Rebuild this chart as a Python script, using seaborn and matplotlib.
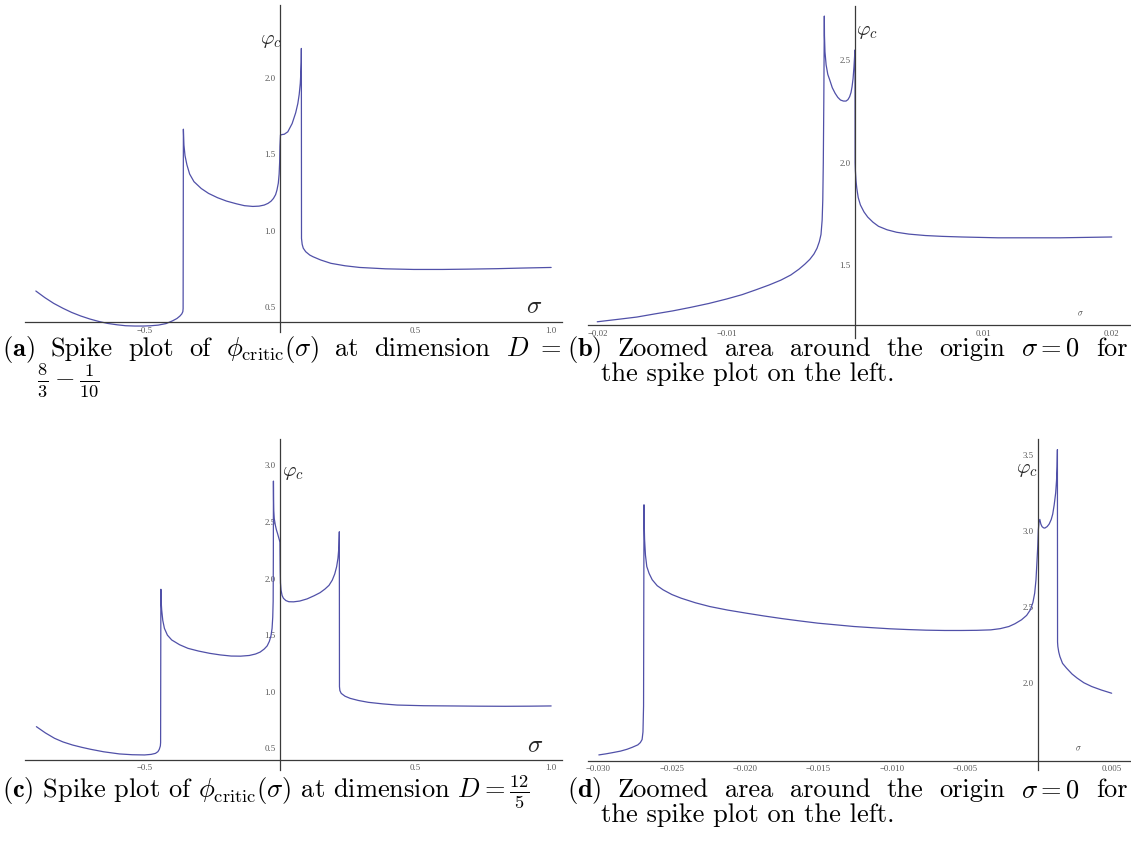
import matplotlib
matplotlib.use("Agg")
import matplotlib.pyplot as plt
import seaborn as sns
from matplotlib.ticker import MultipleLocator

sns.set_theme(style="white")
plt.rcParams["mathtext.fontset"] = "cm"
plt.rcParams["font.family"] = ["DejaVu Sans"]

W, H = 1131, 846

# ---- (a) spike plot, D = 8/3 - 1/10 ----
sigma_a = [-0.900, -0.867, -0.834, -0.800, -0.768, -0.735, -0.701, -0.668, -0.635,
           -0.600, -0.569, -0.535, -0.502, -0.475, -0.449, -0.420, -0.396, -0.380,
           -0.369, -0.362, -0.358, -0.357, -0.356, -0.354, -0.350, -0.343, -0.333,
           -0.317, -0.290, -0.263, -0.230, -0.197, -0.160, -0.131, -0.100, -0.077,
           -0.058, -0.044, -0.033, -0.024, -0.016, -0.011, -0.006, -0.003, -0.001,
           0.000, 0.002, 0.008, 0.016, 0.029, 0.045, 0.058, 0.066, 0.071, 0.075,
           0.077, 0.0785, 0.079, 0.0795, 0.082, 0.086, 0.095, 0.110, 0.122, 0.150,
           0.188, 0.240, 0.294, 0.390, 0.493, 0.600, 0.692, 0.800, 0.891, 1.000]
phi_a = [0.605, 0.562, 0.524, 0.492, 0.465, 0.442, 0.422, 0.406, 0.393,
         0.384, 0.378, 0.376, 0.376, 0.378, 0.382, 0.392, 0.410, 0.425,
         0.441, 0.455, 0.470, 0.490, 1.663, 1.560, 1.490, 1.430, 1.370,
         1.320, 1.275, 1.243, 1.215, 1.193, 1.175, 1.163, 1.158, 1.160,
         1.167, 1.178, 1.192, 1.210, 1.235, 1.265, 1.310, 1.370, 1.450,
         1.550, 1.625, 1.628, 1.630, 1.646, 1.700, 1.770, 1.831, 1.890, 1.962,
         2.030, 2.100, 2.191, 0.949, 0.910, 0.885, 0.862, 0.840, 0.829, 0.808,
         0.786, 0.770, 0.759, 0.750, 0.746, 0.746, 0.748, 0.751, 0.755, 0.759]

# ---- (b) zoom of (a) around the origin ----
sigma_b = [-0.02008, -0.01900, -0.01845, -0.01700, -0.01563, -0.01420, -0.01282,
           -0.01140, -0.01000, -0.00880, -0.00775, -0.00670, -0.00577, -0.00500,
           -0.00437, -0.00390, -0.00352, -0.00320, -0.00296, -0.00278, -0.00265,
           -0.00256, -0.00251, -0.00247, -0.00243, -0.00239, -0.00238, -0.00234,
           -0.00225, -0.00212, -0.00197, -0.00177, -0.00155, -0.00134, -0.00113,
           -0.00090, -0.00070, -0.00055, -0.00042, -0.00031, -0.00023, -0.00015,
           -0.00008, -0.00003, 0.00000, 0.00001, 0.00003, 0.00008, 0.00014,
           0.00025, 0.00042, 0.00070, 0.00099, 0.00140, 0.00183, 0.00250, 0.00324,
           0.00420, 0.00549, 0.00680, 0.00831, 0.00970, 0.01113, 0.01350, 0.01600,
           0.01800, 0.02000]
phi_b = [1.225, 1.233, 1.237, 1.248, 1.263, 1.278, 1.295,
         1.314, 1.336, 1.357, 1.380, 1.404, 1.428, 1.453,
         1.481, 1.506, 1.529, 1.555, 1.583, 1.615, 1.650,
         1.720, 1.818, 2.000, 2.300, 2.714, 2.620, 2.540,
         2.476, 2.430, 2.403, 2.365, 2.338, 2.318, 2.305,
         2.300, 2.300, 2.307, 2.321, 2.342, 2.370, 2.410,
         2.467, 2.520, 2.549, 2.000, 1.960, 1.910, 1.875,
         1.830, 1.794, 1.760, 1.735, 1.710, 1.690, 1.673, 1.661,
         1.652, 1.645, 1.641, 1.638, 1.636, 1.634, 1.634, 1.634,
         1.636, 1.638]

# ---- (c) spike plot, D = 12/5 ----
sigma_c = [-0.898, -0.865, -0.831, -0.800, -0.765, -0.730, -0.698, -0.650, -0.592,
           -0.545, -0.499, -0.475, -0.459, -0.450, -0.445, -0.441, -0.440, -0.439,
           -0.4375, -0.436, -0.432, -0.426, -0.415, -0.399, -0.370, -0.339, -0.300,
           -0.259, -0.220, -0.180, -0.145, -0.113, -0.090, -0.073, -0.058, -0.047,
           -0.039, -0.033, -0.029, -0.0265, -0.025, -0.0243, -0.024, -0.0235,
           -0.0228, -0.021, -0.017, -0.013, -0.009, -0.005, -0.002, 0.000, 0.001,
           0.002, 0.004, 0.008, 0.013, 0.022, 0.033, 0.050, 0.073, 0.100, 0.126,
           0.148, 0.166, 0.181, 0.193, 0.202, 0.209, 0.214, 0.2175, 0.219, 0.2195,
           0.221, 0.226, 0.240, 0.259, 0.290, 0.326, 0.380, 0.432, 0.530, 0.632,
           0.730, 0.831, 0.920, 1.000]
phi_c = [0.691, 0.636, 0.588, 0.556, 0.529, 0.508, 0.491, 0.469, 0.450,
         0.443, 0.441, 0.446, 0.455, 0.470, 0.490, 0.520, 0.550, 1.905,
         1.780, 1.722, 1.630, 1.560, 1.500, 1.457, 1.415, 1.383, 1.359,
         1.339, 1.325, 1.315, 1.314, 1.320, 1.333, 1.350, 1.377, 1.405,
         1.445, 1.495, 1.560, 1.660, 1.800, 2.200, 2.861, 2.700,
         2.600, 2.530, 2.472, 2.430, 2.399, 2.365, 2.340, 2.320, 2.080,
         1.960, 1.898, 1.850, 1.825, 1.805, 1.795, 1.794, 1.801, 1.820, 1.848,
         1.875, 1.907, 1.940, 1.986, 2.040, 2.104, 2.180, 2.280, 2.413, 1.044,
         1.010, 0.985, 0.960, 0.941, 0.922, 0.906, 0.892, 0.882, 0.876, 0.874,
         0.872, 0.871, 0.872, 0.874]

# ---- (d) zoom of (c) around the origin ----
sigma_d = [-0.02998, -0.02950, -0.02904, -0.02850, -0.02806, -0.02770, -0.02732,
           -0.02715, -0.02703, -0.02697, -0.02693, -0.02690, -0.02688, -0.02686,
           -0.02680, -0.02671, -0.02655, -0.02634, -0.02600, -0.02560, -0.02500,
           -0.02437, -0.02340, -0.02241, -0.02120, -0.01995, -0.01870, -0.01749,
           -0.01630, -0.01504, -0.01380, -0.01258, -0.01130, -0.01012, -0.00890,
           -0.00767, -0.00640, -0.00521, -0.00420, -0.00324, -0.00260, -0.00201,
           -0.00160, -0.00115, -0.00080, -0.00054, -0.00037, -0.00025, -0.00016,
           -0.00010, -0.00004, 0.00000, 0.00005, 0.00010, 0.00017, 0.00025,
           0.00035, 0.00044, 0.00060, 0.00074, 0.00088, 0.00098, 0.00108, 0.00118,
           0.00124, 0.00128, 0.00130, 0.00131, 0.00133, 0.00139, 0.00147, 0.00165,
           0.00192, 0.00230, 0.00265, 0.00310, 0.00364, 0.00430, 0.00500]
phi_d = [1.529, 1.536, 1.544, 1.554, 1.566, 1.579, 1.595,
         1.610, 1.630, 1.680, 1.850, 3.171, 3.020, 2.942,
         2.840, 2.766, 2.720, 2.679, 2.640, 2.613, 2.582,
         2.558, 2.528, 2.503, 2.480, 2.460, 2.441, 2.424,
         2.409, 2.394, 2.383, 2.372, 2.364, 2.357, 2.352,
         2.348, 2.346, 2.346, 2.347, 2.350, 2.358, 2.372,
         2.390, 2.416, 2.445, 2.482, 2.530, 2.591, 2.680,
         2.788, 2.900, 3.007, 3.060, 3.075, 3.045, 3.028,
         3.020, 3.018, 3.028, 3.045, 3.075, 3.110, 3.170, 3.248,
         3.330, 3.420, 3.533, 2.270, 2.241, 2.205, 2.175, 2.130,
         2.099, 2.060, 2.033, 2.003, 1.978, 1.955, 1.934]

# tick positions and labels
xticks_ac = [-0.5, 0.5, 1.0]
xlabels_ac = ["\u22120.5", "0.5", "1.0"]
yticks_a = [0.5, 1.0, 1.5, 2.0]
ylabels_a = ["0.5", "1.0", "1.5", "2.0"]
xticks_b = [-0.02, -0.01, 0.01, 0.02]
xlabels_b = ["\u22120.02", "\u22120.01", "0.01", "0.02"]
yticks_b = [1.5, 2.0, 2.5]
ylabels_b = ["1.5", "2.0", "2.5"]
yticks_c = [0.5, 1.0, 1.5, 2.0, 2.5, 3.0]
ylabels_c = ["0.5", "1.0", "1.5", "2.0", "2.5", "3.0"]
xticks_d = [-0.030, -0.025, -0.020, -0.015, -0.010, -0.005, 0.005]
xlabels_d = ["\u22120.030", "\u22120.025", "\u22120.020", "\u22120.015",
             "\u22120.010", "\u22120.005", "0.005"]
yticks_d = [2.0, 2.5, 3.0, 3.5]
ylabels_d = ["2.0", "2.5", "3.0", "3.5"]

LINE = "#5050a8"
AXC = "#3a3a3a"
TICKC = "#555555"

fig = plt.figure(figsize=(W / 100, H / 100), dpi=100)
fig.patch.set_facecolor("white")


def rect(l, t, r, b):
    return [l / W, 1 - b / H, (r - l) / W, (b - t) / H]


def ftext(x, y, s, **kw):
    return fig.text(x / W, 1 - y / H, s, **kw)


panels = [
    dict(x=sigma_a, y=phi_a, box=(25, 5, 562, 332), xlim=(-0.94, 1.04),
         ylim=(0.337, 2.475), y0=0.40, xt=xticks_ac, xl=xlabels_ac, xm=0.1,
         yt=yticks_a, yl=ylabels_a, ym=0.1),
    dict(x=sigma_b, y=phi_b, box=(588, 6, 1131, 338), xlim=(-0.0208, 0.0215),
         ylim=(1.146, 2.763), y0=1.209, xt=xticks_b, xl=xlabels_b, xm=0.002,
         yt=yticks_b, yl=ylabels_b, ym=0.1),
    dict(x=sigma_c, y=phi_c, box=(25, 439, 562, 770), xlim=(-0.94, 1.04),
         ylim=(0.308, 3.233), y0=0.397, xt=xticks_ac, xl=xlabels_ac, xm=0.1,
         yt=yticks_c, yl=ylabels_c, ym=0.1),
    dict(x=sigma_d, y=phi_d, box=(588, 439, 1131, 770), xlim=(-0.03072, 0.00632),
         ylim=(1.43, 3.603), y0=1.49, xt=xticks_d, xl=xlabels_d, xm=0.001,
         yt=yticks_d, yl=ylabels_d, ym=0.1),
]

for p in panels:
    ax = fig.add_axes(rect(*p["box"]))
    ax.set_facecolor("none")
    sns.lineplot(x=p["x"], y=p["y"], ax=ax, sort=False, estimator=None,
                 color=LINE, linewidth=0.9)
    ax.set_xlim(*p["xlim"])
    ax.set_ylim(*p["ylim"])
    ax.set_xlabel("")
    ax.set_ylabel("")
    for side in ("top", "right"):
        ax.spines[side].set_visible(False)
    ax.spines["left"].set_position(("data", 0))
    ax.spines["bottom"].set_position(("data", p["y0"]))
    for side in ("left", "bottom"):
        ax.spines[side].set_color(AXC)
        ax.spines[side].set_linewidth(0.9)
    ax.set_xticks(p["xt"], p["xl"])
    ax.set_yticks(p["yt"], p["yl"])
    ax.xaxis.set_minor_locator(MultipleLocator(p["xm"]))
    ax.yaxis.set_minor_locator(MultipleLocator(p["ym"]))
    ax.tick_params(which="major", direction="inout", length=4, width=0.8,
                   color=AXC, labelsize=6.3, labelcolor=TICKC, pad=1.2)
    ax.tick_params(which="minor", direction="inout", length=2.5, width=0.6,
                   color=AXC)
    for lab in ax.get_xticklabels() + ax.get_yticklabels():
        lab.set_family("Liberation Serif")

# axis labels
ftext(271, 40, r"$\varphi_c$", fontsize=15, ha="center", va="center")
ftext(867, 31, r"$\varphi_c$", fontsize=15, ha="center", va="center")
ftext(293, 472, r"$\varphi_c$", fontsize=15, ha="center", va="center")
ftext(1027, 469, r"$\varphi_c$", fontsize=15, ha="center", va="center")
ftext(534, 306, r"$\sigma$", fontsize=18, ha="center", va="center")
ftext(535, 745, r"$\sigma$", fontsize=18, ha="center", va="center")
ftext(1080, 314, r"$\sigma$", fontsize=6, ha="center", va="center")
ftext(1078, 749, r"$\sigma$", fontsize=6, ha="center", va="center")

# captions
cap = dict(fontsize=19, family="cmr10", color="black", va="baseline")
renderer = fig.canvas.get_renderer()


def justified(x0, x1, y, words):
    # lay out the words of a full caption line so it spans x0..x1
    objs = [ftext(0, y, w, **cap) for w in words]
    widths = [o.get_window_extent(renderer).width for o in objs]
    gap = (x1 - x0 - sum(widths)) / (len(objs) - 1)
    x = x0
    for o, w in zip(objs, widths):
        o.set_x(x / W)
        x += w + gap


justified(2, 561, 356, [r"$\mathbf{(a)}$", "Spike", "plot", "of",
                        r"$\phi_{\mathrm{critic}}(\sigma)$", "at", "dimension", r"$D\ =$"])
ftext(37, 386, r"$\frac{8}{3} - \frac{1}{10}$", **cap)
justified(567, 1128, 356, [r"$\mathbf{(b)}$", "Zoomed", "area", "around", "the",
                           "origin", r"$\sigma = 0$", "for"])
ftext(601, 381, "the spike plot on the left.", **cap)

ftext(2, 797, r"$\mathbf{(c)}$ Spike plot of $\phi_{\mathrm{critic}}(\sigma)$ at dimension $D = \frac{12}{5}$", **cap)
justified(567, 1128, 797, [r"$\mathbf{(d)}$", "Zoomed", "area", "around", "the",
                           "origin", r"$\sigma = 0$", "for"])
ftext(601, 822, "the spike plot on the left.", **cap)

fig.savefig("out.png", dpi=100, facecolor="white")
